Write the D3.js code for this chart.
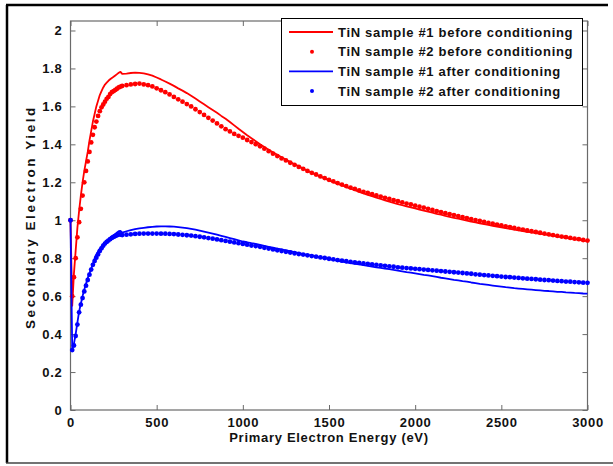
<!DOCTYPE html>
<html>
<head>
<meta charset="utf-8">
<script src="https://cdn.jsdelivr.net/npm/d3@7"></script>
<style>
  body { margin: 0; background: #fff; }
  svg text { font-family: "Liberation Sans", Arial, sans-serif; font-weight: bold; fill: #111; letter-spacing: 0.7px; }
</style>
</head>
<body>
<svg id="chart" width="613" height="466"></svg>
<script>
// energy grid (eV) shared by all four series
const energy = [
  0, 10, 20, 30, 40, 50, 60, 70, 80, 90, 100, 110, 120, 130, 140, 150, 160, 170, 180, 190,
  200, 210, 220, 230, 240, 250, 260, 270, 280, 290, 300,
  325, 350, 375, 400, 425, 450, 475, 500, 525, 550, 575, 600, 625, 650, 675, 700,
  725, 750, 775, 800, 825, 850, 875, 900, 925, 950, 975, 1000,
  1025, 1050, 1075, 1100, 1125, 1150, 1175, 1200, 1225, 1250, 1275, 1300,
  1325, 1350, 1375, 1400, 1425, 1450, 1475, 1500, 1525, 1550, 1575, 1600,
  1625, 1650, 1675, 1700, 1725, 1750, 1775, 1800, 1825, 1850, 1875, 1900,
  1925, 1950, 1975, 2000, 2025, 2050, 2075, 2100, 2125, 2150, 2175, 2200,
  2225, 2250, 2275, 2300, 2325, 2350, 2375, 2400, 2425, 2450, 2475, 2500,
  2525, 2550, 2575, 2600, 2625, 2650, 2675, 2700, 2725, 2750, 2775, 2800,
  2825, 2850, 2875, 2900, 2925, 2950, 2975, 3000
];

// TiN sample #1 before conditioning (line)
const s1Before = [
  1.00, 0.55, 0.72, 0.84, 0.96, 1.05, 1.13, 1.20, 1.26, 1.31, 1.36, 1.42, 1.47, 1.52, 1.56, 1.60, 1.63, 1.66, 1.68, 1.70,
  1.715, 1.725, 1.735, 1.743, 1.75, 1.756, 1.763, 1.77, 1.777, 1.782, 1.771,
  1.773, 1.776, 1.778, 1.777, 1.774, 1.769, 1.762, 1.752, 1.742, 1.731, 1.72, 1.708, 1.695, 1.683, 1.67, 1.656,
  1.641, 1.626, 1.611, 1.596, 1.581, 1.566, 1.55, 1.535, 1.518, 1.50, 1.482, 1.465,
  1.448, 1.432, 1.416, 1.40, 1.386, 1.372, 1.358, 1.345, 1.332, 1.32, 1.307, 1.295,
  1.284, 1.272, 1.261, 1.25, 1.24, 1.23, 1.22, 1.21, 1.201, 1.192, 1.184, 1.175,
  1.167, 1.158, 1.15, 1.142, 1.134, 1.127, 1.119, 1.112, 1.105, 1.098, 1.092, 1.085,
  1.079, 1.073, 1.068, 1.062, 1.056, 1.051, 1.045, 1.04, 1.034, 1.029, 1.023, 1.018,
  1.013, 1.008, 1.003, 0.998, 0.993, 0.989, 0.984, 0.98, 0.976, 0.971, 0.967, 0.963,
  0.959, 0.955, 0.951, 0.947, 0.943, 0.939, 0.936, 0.932, 0.928, 0.925, 0.921, 0.918,
  0.914, 0.911, 0.907, 0.904, 0.90, 0.897, 0.893, 0.89
];

// TiN sample #2 before conditioning (dots)
const s2Before = [
  1.00, 0.60, 0.70, 0.80, 0.91, 0.99, 1.06, 1.13, 1.20, 1.26, 1.31, 1.36, 1.41, 1.45, 1.49, 1.52, 1.55, 1.575, 1.595, 1.61,
  1.625, 1.64, 1.65, 1.665, 1.675, 1.68, 1.687, 1.693, 1.70, 1.704, 1.708,
  1.712, 1.716, 1.718, 1.72, 1.716, 1.712, 1.705, 1.695, 1.685, 1.675, 1.663, 1.65, 1.637, 1.625, 1.612, 1.60,
  1.585, 1.57, 1.555, 1.54, 1.525, 1.51, 1.495, 1.48, 1.468, 1.455, 1.445, 1.435,
  1.423, 1.412, 1.401, 1.39, 1.377, 1.364, 1.351, 1.338, 1.326, 1.315, 1.303, 1.292,
  1.281, 1.271, 1.26, 1.25, 1.241, 1.231, 1.222, 1.213, 1.205, 1.196, 1.188, 1.18,
  1.172, 1.165, 1.157, 1.15, 1.144, 1.137, 1.131, 1.124, 1.118, 1.112, 1.106, 1.10,
  1.094, 1.088, 1.083, 1.077, 1.071, 1.066, 1.06, 1.054, 1.048, 1.043, 1.037, 1.032,
  1.027, 1.022, 1.016, 1.011, 1.006, 1.001, 0.996, 0.991, 0.986, 0.982, 0.977, 0.973,
  0.968, 0.964, 0.959, 0.955, 0.951, 0.946, 0.942, 0.938, 0.934, 0.93, 0.926, 0.922,
  0.918, 0.914, 0.911, 0.907, 0.903, 0.90, 0.896, 0.893
];

// TiN sample #1 after conditioning (line)
const s1After = [
  1.00, 0.32, 0.35, 0.40, 0.46, 0.52, 0.56, 0.60, 0.635, 0.665, 0.695, 0.72, 0.745, 0.77, 0.80, 0.82, 0.835, 0.85, 0.862, 0.873,
  0.883, 0.892, 0.90, 0.908, 0.915, 0.921, 0.928, 0.935, 0.942, 0.944, 0.935,
  0.942, 0.948, 0.953, 0.957, 0.96, 0.963, 0.965, 0.967, 0.968, 0.968, 0.967, 0.966, 0.964, 0.961, 0.958, 0.954,
  0.95, 0.945, 0.94, 0.935, 0.93, 0.924, 0.918, 0.912, 0.906, 0.90, 0.894, 0.888,
  0.884, 0.879, 0.875, 0.87, 0.865, 0.86, 0.856, 0.851, 0.846, 0.841, 0.837, 0.832,
  0.827, 0.822, 0.818, 0.813, 0.808, 0.804, 0.80, 0.795, 0.791, 0.786, 0.782, 0.778,
  0.774, 0.77, 0.767, 0.763, 0.759, 0.756, 0.752, 0.749, 0.745, 0.742, 0.738, 0.735,
  0.731, 0.727, 0.724, 0.72, 0.716, 0.712, 0.709, 0.705, 0.701, 0.697, 0.694, 0.69,
  0.686, 0.683, 0.679, 0.676, 0.672, 0.669, 0.665, 0.662, 0.659, 0.656, 0.653, 0.65,
  0.647, 0.645, 0.642, 0.64, 0.638, 0.636, 0.634, 0.632, 0.63, 0.628, 0.627, 0.625,
  0.623, 0.622, 0.62, 0.619, 0.617, 0.616, 0.614, 0.613
];

// TiN sample #2 after conditioning (dots)
const s2After = [
  1.00, 0.316, 0.34, 0.39, 0.45, 0.515, 0.555, 0.59, 0.625, 0.655, 0.685, 0.713, 0.74, 0.765, 0.785, 0.803, 0.82, 0.838, 0.852, 0.866,
  0.877, 0.886, 0.893, 0.90, 0.907, 0.912, 0.917, 0.921, 0.925, 0.925, 0.922,
  0.924, 0.926, 0.928, 0.929, 0.93, 0.93, 0.93, 0.93, 0.929, 0.929, 0.928, 0.927, 0.925, 0.923, 0.921, 0.919,
  0.916, 0.913, 0.91, 0.906, 0.903, 0.899, 0.895, 0.891, 0.887, 0.883, 0.879, 0.875,
  0.871, 0.867, 0.864, 0.86, 0.855, 0.851, 0.846, 0.842, 0.838, 0.834, 0.83, 0.826,
  0.822, 0.819, 0.815, 0.811, 0.808, 0.804, 0.801, 0.797, 0.794, 0.79, 0.787, 0.784,
  0.781, 0.778, 0.775, 0.772, 0.77, 0.767, 0.765, 0.762, 0.76, 0.757, 0.755, 0.752,
  0.75, 0.748, 0.746, 0.744, 0.742, 0.74, 0.738, 0.736, 0.734, 0.732, 0.73, 0.728,
  0.726, 0.724, 0.722, 0.72, 0.718, 0.715, 0.713, 0.711, 0.709, 0.707, 0.705, 0.703,
  0.701, 0.70, 0.698, 0.696, 0.694, 0.692, 0.691, 0.689, 0.687, 0.685, 0.684, 0.682,
  0.68, 0.679, 0.677, 0.676, 0.674, 0.673, 0.671, 0.67
];

const xTicks = [0, 500, 1000, 1500, 2000, 2500, 3000];
const yTicks = [0, 0.2, 0.4, 0.6, 0.8, 1, 1.2, 1.4, 1.6, 1.8, 2];

const series = [
  { name: "TiN sample #1 before conditioning", values: s1Before, color: "#ff0000", kind: "line" },
  { name: "TiN sample #2 before conditioning", values: s2Before, color: "#ff0000", kind: "dots" },
  { name: "TiN sample #1 after conditioning", values: s1After, color: "#0000ff", kind: "line" },
  { name: "TiN sample #2 after conditioning", values: s2After, color: "#0000ff", kind: "dots" }
];

const svg = d3.select("#chart");
const box = { left: 70.5, right: 587.5, top: 21, bottom: 410 };
const fontSize = "13px";

// outer figure frame (left, top, bottom edges)
svg.append("line").attr("x1", 7).attr("y1", 5).attr("x2", 7).attr("y2", 463)
  .attr("stroke", "#000").attr("stroke-width", 2.5);
svg.append("line").attr("x1", 6).attr("y1", 5).attr("x2", 608).attr("y2", 5)
  .attr("stroke", "#000").attr("stroke-width", 2.5);
svg.append("line").attr("x1", 6).attr("y1", 463).attr("x2", 613).attr("y2", 463)
  .attr("stroke", "#444").attr("stroke-width", 1.5);

const x = d3.scaleLinear().domain([0, 3000]).range([box.left, box.right]);
const y = d3.scaleLinear().domain([0, 2.05]).range([box.bottom, box.top]);

const axisColor = "#6a6a6a";

// axes with inward ticks on all four sides
const gx = svg.append("g").attr("transform", "translate(0," + box.bottom + ")")
  .call(d3.axisBottom(x).tickValues(xTicks).tickSizeInner(-5).tickSizeOuter(0).tickPadding(8).tickFormat(d3.format("d")));
const gxTop = svg.append("g").attr("transform", "translate(0," + box.top + ")")
  .call(d3.axisTop(x).tickValues(xTicks).tickSizeInner(-5).tickSizeOuter(0).tickFormat(""));
const gy = svg.append("g").attr("transform", "translate(" + box.left + ",0)")
  .call(d3.axisLeft(y).tickValues(yTicks).tickSizeInner(-5).tickSizeOuter(0).tickPadding(8).tickFormat(d => d3.format("")(+d.toFixed(1))));
const gyRight = svg.append("g").attr("transform", "translate(" + box.right + ",0)")
  .call(d3.axisRight(y).tickValues(yTicks).tickSizeInner(-5).tickSizeOuter(0).tickFormat(""));

[gx, gxTop, gy, gyRight].forEach(g => {
  g.select(".domain").remove();
  g.selectAll(".tick line").attr("stroke", axisColor);
  g.selectAll("text").style("font-size", fontSize).attr("fill", "#111")
    .style("font-family", "'Liberation Sans', Arial, sans-serif").style("font-weight", "bold");
});

svg.append("rect")
  .attr("x", box.left).attr("y", box.top)
  .attr("width", box.right - box.left).attr("height", box.bottom - box.top)
  .attr("fill", "none").attr("stroke", axisColor).attr("stroke-width", 1.2);

// axis titles
svg.append("text")
  .attr("x", (box.left + box.right) / 2).attr("y", 442)
  .attr("text-anchor", "middle").style("font-size", fontSize)
  .text("Primary Electron Energy (eV)");

svg.append("text")
  .attr("transform", "translate(35,218) rotate(-90)")
  .attr("text-anchor", "middle").style("font-size", "13.5px")
  .attr("textLength", 222).attr("lengthAdjust", "spacing")
  .text("Secondary Electron Yield");

// data
const plot = svg.append("g");
const lineGen = d3.line().x((d, i) => x(energy[i])).y(d => y(d));

series.forEach(s => {
  if (s.kind === "line") {
    plot.append("path")
      .datum(s.values)
      .attr("d", lineGen)
      .attr("fill", "none")
      .attr("stroke", s.color)
      .attr("stroke-width", 1.8)
      .attr("stroke-linejoin", "round");
  } else {
    plot.append("g").selectAll("circle")
      .data(s.values)
      .enter()
      .append("circle")
      .attr("cx", (d, i) => x(energy[i]))
      .attr("cy", d => y(d))
      .attr("r", 2.4)
      .attr("fill", s.color);
  }
});

// legend
const legend = svg.append("g");
legend.append("rect")
  .attr("x", 281.5).attr("y", 18.5).attr("width", 301).attr("height", 87)
  .attr("fill", "#fff").attr("stroke", "#000").attr("stroke-width", 1);

const rowY = d3.scalePoint().domain(series.map(s => s.name)).range([32, 91]);

series.forEach(s => {
  const ry = rowY(s.name);
  if (s.kind === "line") {
    legend.append("line")
      .attr("x1", 289).attr("x2", 333).attr("y1", ry).attr("y2", ry)
      .attr("stroke", s.color).attr("stroke-width", 1.8);
  } else {
    legend.append("circle").attr("cx", 312).attr("cy", ry).attr("r", 2).attr("fill", s.color);
  }
  legend.append("text")
    .attr("x", 338).attr("y", ry + 4.5)
    .style("font-size", fontSize)
    .text(s.name);
});
</script>
</body>
</html>
